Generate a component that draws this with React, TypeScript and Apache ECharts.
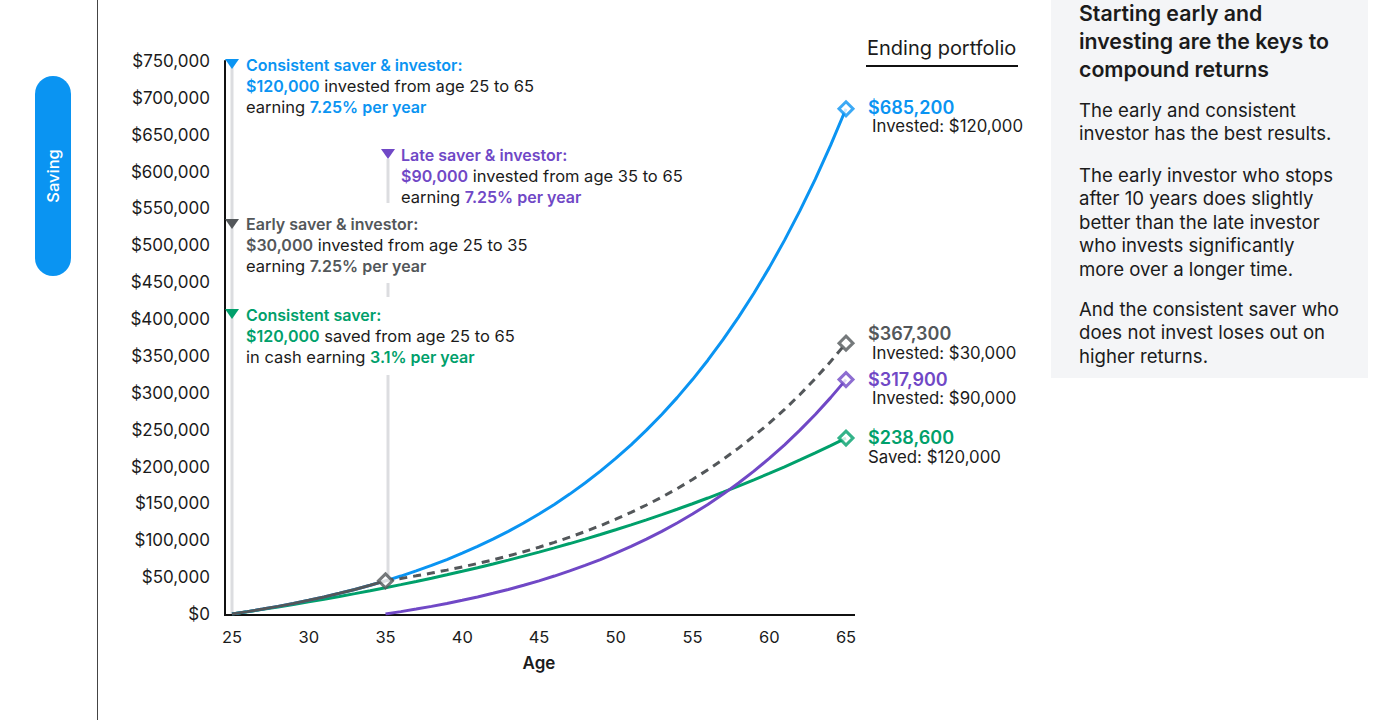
import React, { useEffect, useRef } from 'react';
import * as echarts from 'echarts';

const ages = [25, 26, 27, 28, 29, 30, 31, 32, 33, 34, 35, 36, 37, 38, 39, 40, 41, 42, 43, 44, 45, 46, 47, 48, 49, 50, 51, 52, 53, 54, 55, 56, 57, 58, 59, 60, 61, 62, 63, 64, 65];
const lateAges = [35, 36, 37, 38, 39, 40, 41, 42, 43, 44, 45, 46, 47, 48, 49, 50, 51, 52, 53, 54, 55, 56, 57, 58, 59, 60, 61, 62, 63, 64, 65];
const earlyAges = [25, 26, 27, 28, 29, 30, 31, 32, 33, 34, 35];

const consistentInvestor = [0, 3217, 6668, 10369, 14338, 18595, 23161, 28058, 33309, 38942, 44983, 51461, 58410, 65862, 73855, 82427, 91620, 101480, 112054, 123396, 135560, 148606, 162597, 177603, 193697, 210957, 229469, 249323, 270617, 293454, 317947, 344216, 372389, 402605, 435010, 469768, 507041, 547016, 589897, 635882, 685200];
const consistentSaver = [0, 3093, 6282, 9569, 12958, 16453, 20056, 23770, 27600, 31548, 35619, 39816, 44143, 48604, 53204, 57946, 62835, 67876, 73073, 78432, 83957, 89652, 95525, 101579, 107821, 114257, 120892, 127733, 134785, 142057, 149553, 157283, 165252, 173467, 181938, 190671, 199675, 208958, 218529, 228397, 238600];
const earlyInvestorSaving = [0, 3217, 6668, 10369, 14338, 18595, 23161, 28058, 33309, 38942, 44983];
const earlyInvestorGrowth = [44983, 48244, 51742, 55493, 59516, 63831, 68459, 73422, 78745, 84454, 90577, 97144, 104187, 111741, 119842, 128531, 137849, 147843, 158562, 170057, 182387, 195610, 209791, 225001, 241314, 258809, 277573, 297696, 319279, 342427, 367300];
const lateInvestor = [0, 3217, 6668, 10369, 14338, 18595, 23161, 28058, 33309, 38942, 44983, 51461, 58410, 65862, 73855, 82427, 91620, 101480, 112054, 123396, 135560, 148606, 162597, 177603, 193697, 210957, 229469, 249323, 270617, 293454, 317900];

const yTicks = ['$0', '$50,000', '$100,000', '$150,000', '$200,000', '$250,000', '$300,000', '$350,000', '$400,000', '$450,000', '$500,000', '$550,000', '$600,000', '$650,000', '$700,000', '$750,000'];

const BLUE = '#0A94F2';
const PURPLE = '#7048C6';
const GREEN = '#00A06B';
const GRAY = '#53575A';
const TEXT = '#1b1b1b';
const LIGHT = '#dcdde0';
const FONT = 'Inter, "Noto Sans", sans-serif';

const pairs = (xs: number[], ys: number[]) => xs.map((x, i) => [x, ys[i]]);

export default function App() {
  const ref = useRef<HTMLDivElement>(null);
  useEffect(() => {
    if (!ref.current) return;
    const chart = echarts.init(ref.current, undefined, { renderer: 'svg' });

    const lineBase = (color: string) => ({
      type: 'line' as const,
      showSymbol: false,
      symbol: 'none',
      smooth: false,
      lineStyle: { color, width: 3 },
      itemStyle: { color },
      emphasis: { disabled: true },
    });

    const diamond = (name: string, data: number[][], color: string, z: number) => ({
      type: 'scatter' as const,
      name,
      data,
      symbol: 'diamond',
      symbolSize: 14,
      itemStyle: { color: '#fff', borderColor: color, borderWidth: 3 },
      z,
    });

    const rich = (accent: string) => ({
      a: { fill: accent, fontWeight: 600, fontSize: 16, lineHeight: 21, fontFamily: FONT },
      n: { fill: TEXT, fontWeight: 400, fontSize: 16.5, lineHeight: 21, fontFamily: FONT },
    });

    const annot = (x: number, y: number, text: string, accent: string) => ({
      type: 'text',
      x,
      y,
      style: { text, rich: rich(accent), verticalAlign: 'top', align: 'left', fontFamily: FONT },
      z: 20,
    });

    const tri = (cx: number, cy: number, color: string) => ({
      type: 'polygon',
      shape: { points: [[cx - 7, cy - 5], [cx + 7, cy - 5], [cx, cy + 5]] },
      style: { fill: color },
      z: 20,
    });

    const vline = (x: number, y1: number, y2: number, color: string, w: number) => ({
      type: 'line',
      shape: { x1: x, y1, x2: x, y2 },
      style: { stroke: color, lineWidth: w },
      z: 1,
    });

    const txt = (x: number, y: number, text: string, size: number, color: string, weight: number | string, lh?: number) => ({
      type: 'text',
      x,
      y,
      style: {
        text,
        fontSize: size,
        fontWeight: weight,
        fill: color,
        fontFamily: FONT,
        verticalAlign: 'top',
        align: 'left',
        lineHeight: lh || size * 1.3,
      },
      z: 20,
    });

    const option: any = {
      animation: false,
      grid: { left: 232, right: 554, top: 61, bottom: 106, containLabel: false },
      xAxis: {
        type: 'value',
        min: 25,
        max: 65,
        interval: 5,
        axisLine: { show: false },
        axisTick: { show: false },
        splitLine: { show: false },
        axisLabel: { color: TEXT, fontSize: 16.5, fontFamily: FONT, margin: 14 },
        name: 'Age',
        nameLocation: 'middle',
        nameGap: 40,
        nameTextStyle: { color: TEXT, fontSize: 17, fontWeight: 600, fontFamily: FONT },
      },
      yAxis: {
        type: 'value',
        min: 0,
        max: 750000,
        interval: 50000,
        offset: 7,
        axisLine: { show: true, lineStyle: { color: '#111', width: 2 } },
        axisTick: { show: false },
        splitLine: { show: false },
        axisLabel: {
          color: TEXT,
          fontSize: 17,
          fontFamily: FONT,
          margin: 15,
          formatter: (v: number) => yTicks[Math.round(v / 50000)],
        },
      },
      series: [
        { ...lineBase(GREEN), name: 'Consistent saver', data: pairs(ages, consistentSaver), z: 3 },
        { ...lineBase(PURPLE), name: 'Late saver & investor', data: pairs(lateAges, lateInvestor), z: 4 },
        { ...lineBase(BLUE), name: 'Consistent saver & investor', data: pairs(ages, consistentInvestor), z: 5 },
        {
          ...lineBase(GRAY),
          name: 'Early saver & investor (growth)',
          data: pairs(lateAges, earlyInvestorGrowth),
          lineStyle: { color: GRAY, width: 3, type: [8, 6] },
          z: 6,
        },
        { ...lineBase(GRAY), name: 'Early saver & investor', data: pairs(earlyAges, earlyInvestorSaving), z: 7 },
        diamond('end-blue', [[ages[ages.length - 1], consistentInvestor[consistentInvestor.length - 1]]], BLUE, 10),
        diamond('end-green', [[ages[ages.length - 1], consistentSaver[consistentSaver.length - 1]]], GREEN, 10),
        diamond('end-purple', [[lateAges[lateAges.length - 1], lateInvestor[lateInvestor.length - 1]]], PURPLE, 10),
        diamond(
          'end-gray',
          [
            [earlyAges[earlyAges.length - 1], earlyInvestorSaving[earlyInvestorSaving.length - 1]],
            [lateAges[lateAges.length - 1], earlyInvestorGrowth[earlyInvestorGrowth.length - 1]],
          ],
          GRAY,
          11,
        ),
      ],
      graphic: [
        { type: 'line', shape: { x1: 97.5, y1: 0, x2: 97.5, y2: 720 }, style: { stroke: '#444', lineWidth: 1 } },
        { type: 'rect', shape: { x: 35, y: 76, width: 36, height: 200, r: 18 }, style: { fill: BLUE } },
        {
          type: 'text',
          x: 53,
          y: 176,
          rotation: Math.PI / 2,
          style: { text: 'Saving', fill: '#fff', fontSize: 16.5, fontWeight: 500, fontFamily: FONT, align: 'center', verticalAlign: 'middle' },
        },
        { type: 'line', shape: { x1: 224, y1: 615, x2: 855, y2: 615 }, style: { stroke: '#111', lineWidth: 2 }, z: 2 },
        vline(232, 64, 614, LIGHT, 3),
        vline(388, 159, 203, LIGHT, 3),
        vline(388, 283, 297, LIGHT, 3),
        vline(388, 375, 580, LIGHT, 3),
        tri(232, 64, BLUE),
        tri(388, 154, PURPLE),
        tri(232, 224, GRAY),
        tri(232, 314, GREEN),
        annot(246, 54, '{a|Consistent saver & investor:}\n{a|$120,000}{n| invested from age 25 to 65}\n{n|earning }{a|7.25% per year}', BLUE),
        annot(401, 144, '{a|Late saver & investor:}\n{a|$90,000}{n| invested from age 35 to 65}\n{n|earning }{a|7.25% per year}', PURPLE),
        annot(246, 213, '{a|Early saver & investor:}\n{a|$30,000}{n| invested from age 25 to 35}\n{n|earning }{a|7.25% per year}', GRAY),
        annot(246, 304, '{a|Consistent saver:}\n{a|$120,000}{n| saved from age 25 to 65}\n{n|in cash earning }{a|3.1% per year}', GREEN),
        txt(867, 36, 'Ending portfolio', 20, TEXT, 400, 24),
        { type: 'line', shape: { x1: 866, y1: 66, x2: 1018, y2: 66 }, style: { stroke: '#111', lineWidth: 2 } },
        txt(868, 96, '$685,200', 18, BLUE, 600, 22),
        txt(872, 116, 'Invested: $120,000', 16.8, TEXT, 400, 20),
        txt(868, 322, '$367,300', 18, GRAY, 600, 22),
        txt(872, 343, 'Invested: $30,000', 16.8, TEXT, 400, 20),
        txt(868, 368, '$317,900', 18, PURPLE, 600, 22),
        txt(872, 388, 'Invested: $90,000', 16.8, TEXT, 400, 20),
        txt(868, 426, '$238,600', 18, GREEN, 600, 22),
        txt(868, 447, 'Saved: $120,000', 16.8, TEXT, 400, 20),
        { type: 'rect', shape: { x: 1051, y: 0, width: 317, height: 378 }, style: { fill: '#f4f5f7' }, z: 0 },
        txt(1079, -1, 'Starting early and\ninvesting are the keys to\ncompound returns', 21.3, TEXT, 600, 28),
        txt(1079, 98, 'The early and consistent\ninvestor has the best results.', 18.6, TEXT, 400, 23.5),
        txt(1079, 163, 'The early investor who stops\nafter 10 years does slightly\nbetter than the late investor\nwho invests significantly\nmore over a longer time.', 18.6, TEXT, 400, 23.5),
        txt(1079, 297, 'And the consistent saver who\ndoes not invest loses out on\nhigher returns.', 18.6, TEXT, 400, 23.5),
      ],
    };

    chart.setOption(option);
    return () => chart.dispose();
  }, []);

  return <div ref={ref} style={{ position: 'absolute', left: 0, top: 0, width: 1400, height: 720, background: '#fff' }} />;
}
